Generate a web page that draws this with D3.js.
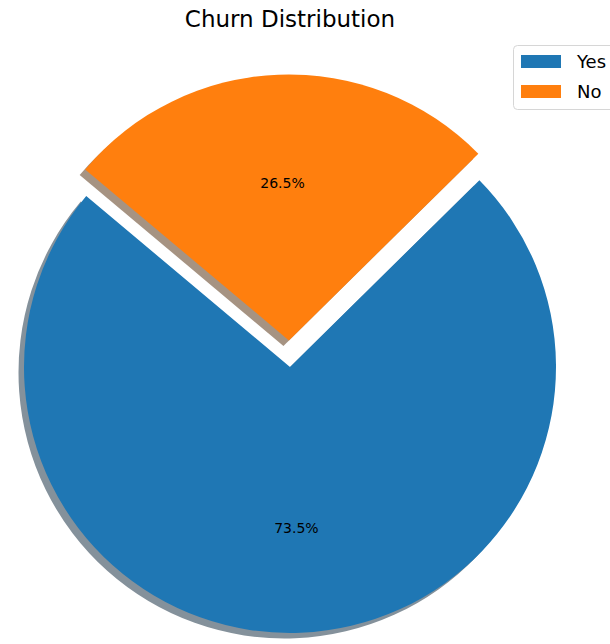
<!DOCTYPE html>
<html>
<head>
<meta charset="utf-8">
<script src="https://cdn.jsdelivr.net/npm/d3@7"></script>
<style>
  html, body { margin: 0; padding: 0; background: #fff; }
  svg { display: block; font-family: "DejaVu Sans", sans-serif; }
</style>
</head>
<body>
<svg id="chart" width="610" height="644"></svg>
<script>
// Churn share by category
const categories = ["Yes", "No"];
const values = [73.5, 26.5];
const colors = ["#1f77b4", "#ff7f0e"];
const explode = [0, 0.1];
const titleText = "Churn Distribution";

const W = 610, H = 644;
const cx = 290, cy = 367, R = 266;
const startDeg = 140; // counter-clockwise from 3 o'clock

const svg = d3.select("#chart");

// convert a counter-clockwise math angle to d3's clockwise-from-top angle
const toD3 = deg => (90 - deg) * Math.PI / 180;

const pie = d3.pie()
  .sort(null)
  .value(d => d)
  .startAngle(toD3(startDeg))
  .endAngle(toD3(startDeg) - 2 * Math.PI);

const arcs = pie(values);
const arc = d3.arc().innerRadius(0).outerRadius(R);

function offsetOf(d, i) {
  const mid = (d.startAngle + d.endAngle) / 2;
  const k = explode[i] * R;
  return [Math.sin(mid) * k, -Math.cos(mid) * k];
}

// shadow colour: darkened face colour at half opacity over white
function shadowColor(c) {
  const rgb = d3.rgb(c);
  return d3.rgb(
    255 * 0.5 + rgb.r * 0.3 * 0.5,
    255 * 0.5 + rgb.g * 0.3 * 0.5,
    255 * 0.5 + rgb.b * 0.3 * 0.5
  ).formatHex();
}

const g = svg.append("g").attr("transform", `translate(${cx},${cy})`);

// shadows
g.selectAll("path.shadow")
  .data(arcs)
  .join("path")
  .attr("class", "shadow")
  .attr("d", arc)
  .attr("fill", (d, i) => shadowColor(colors[i]))
  .attr("transform", (d, i) => {
    const [dx, dy] = offsetOf(d, i);
    return `translate(${dx - 5.5},${dy + 5.5})`;
  });

// wedges
g.selectAll("path.wedge")
  .data(arcs)
  .join("path")
  .attr("class", "wedge")
  .attr("d", arc)
  .attr("fill", (d, i) => colors[i])
  .attr("transform", (d, i) => {
    const [dx, dy] = offsetOf(d, i);
    return `translate(${dx},${dy})`;
  });

// percentage labels at 0.6 of the radius
g.selectAll("text.pct")
  .data(arcs)
  .join("text")
  .attr("class", "pct")
  .attr("transform", (d, i) => {
    const [dx, dy] = offsetOf(d, i);
    const mid = (d.startAngle + d.endAngle) / 2;
    const x = Math.sin(mid) * R * 0.6 + dx;
    const y = -Math.cos(mid) * R * 0.6 + dy;
    return `translate(${x},${y + 2})`;
  })
  .attr("text-anchor", "middle")
  .attr("dominant-baseline", "central")
  .attr("font-size", 14)
  .attr("fill", "#000")
  .text(d => d.data.toFixed(1) + "%");

// title
svg.append("text")
  .attr("x", cx)
  .attr("y", 27)
  .attr("text-anchor", "middle")
  .attr("font-size", 23)
  .attr("fill", "#000")
  .text(titleText);

// legend
const lg = svg.append("g").attr("transform", "translate(513,45)");
lg.append("rect")
  .attr("x", 0.5).attr("y", 0.5)
  .attr("width", 110).attr("height", 64)
  .attr("rx", 4)
  .attr("fill", "#fff")
  .attr("fill-opacity", 0.8)
  .attr("stroke", "#d6d6d6");

const items = lg.selectAll("g.item")
  .data(categories)
  .join("g")
  .attr("class", "item")
  .attr("transform", (d, i) => `translate(8,${10 + i * 30})`);

items.append("rect")
  .attr("width", 40)
  .attr("height", 13)
  .attr("fill", (d, i) => colors[i]);

items.append("text")
  .attr("x", 56)
  .attr("y", 6.5)
  .attr("dominant-baseline", "central")
  .attr("font-size", 18)
  .attr("fill", "#000")
  .text(d => d);
</script>
</body>
</html>
